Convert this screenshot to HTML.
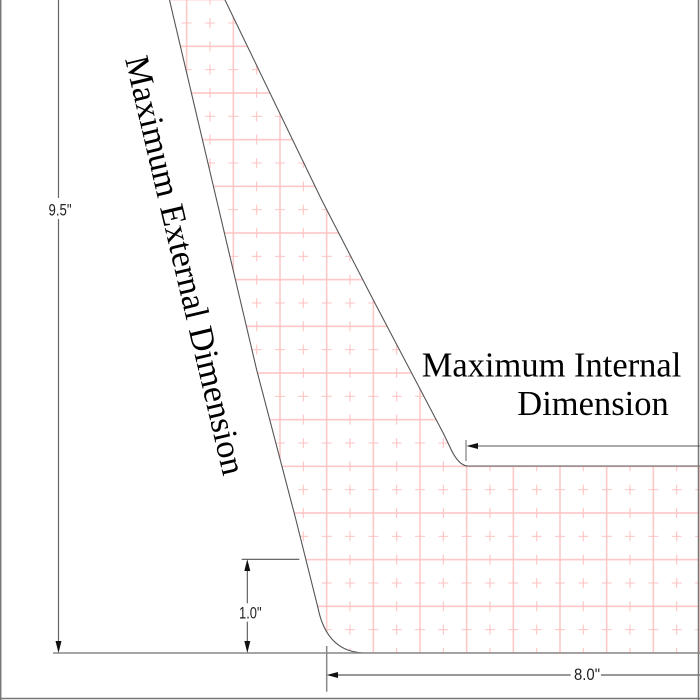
<!DOCTYPE html>
<html><head><meta charset="utf-8"><style>
html,body{margin:0;padding:0;background:#fff;}
svg{display:block;}
</style></head><body>
<svg width="700" height="700" viewBox="0 0 700 700" xmlns="http://www.w3.org/2000/svg">
<defs>
<pattern id="g" patternUnits="userSpaceOnUse" x="326.667" y="653" width="46.667" height="46.667">
<g stroke="#ffc2c2" stroke-width="1.4" fill="none">
<line x1="0" y1="0" x2="0" y2="46.667"/>
<line x1="46.667" y1="0" x2="46.667" y2="46.667"/>
<line x1="0" y1="0" x2="46.667" y2="0"/>
<line x1="0" y1="46.667" x2="46.667" y2="46.667"/>
</g>
<g stroke="#ffc2c2" stroke-width="1.1" fill="none">
<path d="M18.33 23.33h10M23.33 18.33v10"/>
<path d="M-5 23.33h10M0 18.33v10"/>
<path d="M41.67 23.33h10M46.67 18.33v10"/>
<path d="M18.33 0h10M23.33 -5v10"/>
<path d="M18.33 46.67h10M23.33 41.67v10"/>
</g>
</pattern>
<clipPath id="c"><path d="M169.5,0 L225,0 L321.7,200 L373.3,300 L443.3,433.3 L449,445 Q458,466 468,466 L700,466 L700,653 L364,653 Q327,652 318,608 L296,520 L256.7,370 Z"/></clipPath>
</defs>
<rect x="0" y="0" width="700" height="700" fill="#fff"/>
<rect x="0" y="0" width="700" height="700" fill="url(#g)" clip-path="url(#c)"/>

<!-- outlines -->
<path d="M169.5,0 L256.7,370 L296,520 L318,608 Q327,652 364,653 L700,653" fill="none" stroke="#555" stroke-width="1.1"/>
<path d="M225,0 L321.7,200 L373.3,300 L443.3,433.3 L449,445 Q458,466 468,466 L700,466" fill="none" stroke="#555" stroke-width="1.1"/>

<!-- borders -->
<line x1="0.7" y1="0" x2="0.7" y2="700" stroke="#777" stroke-width="1.5"/>
<line x1="698.5" y1="0" x2="698.5" y2="700" stroke="#777" stroke-width="1.5"/>
<line x1="0" y1="698.5" x2="700" y2="698.5" stroke="#777" stroke-width="1.5"/>

<!-- baseline -->
<line x1="53" y1="653" x2="700" y2="653" stroke="#888" stroke-width="1.4"/>

<!-- 9.5 dimension -->
<line x1="58.5" y1="0" x2="58.5" y2="198" stroke="#666" stroke-width="1.2"/>
<line x1="58.5" y1="219" x2="58.5" y2="645" stroke="#666" stroke-width="1.2"/>
<path d="M55.5,641 L61.5,641 L58.5,653 Z" fill="#111"/>
<text x="60" y="215.7" font-family="Liberation Sans, sans-serif" font-size="17" fill="#222" text-anchor="middle" textLength="23" lengthAdjust="spacingAndGlyphs">9.5"</text>

<!-- 1.0 dimension -->
<line x1="241.7" y1="559.3" x2="299.3" y2="559.3" stroke="#555" stroke-width="1.1"/>
<line x1="247.3" y1="565" x2="247.3" y2="603.3" stroke="#555" stroke-width="1.1"/>
<line x1="247.3" y1="621.7" x2="247.3" y2="647" stroke="#555" stroke-width="1.1"/>
<path d="M244.3,571 L250.3,571 L247.3,559.3 Z" fill="#111"/>
<path d="M244.3,641 L250.3,641 L247.3,653 Z" fill="#111"/>
<text x="250.3" y="618.3" font-family="Liberation Sans, sans-serif" font-size="17" fill="#222" text-anchor="middle" textLength="22.5" lengthAdjust="spacingAndGlyphs">1.0"</text>

<!-- 8.0 dimension -->
<line x1="326.7" y1="646" x2="326.7" y2="691.7" stroke="#888" stroke-width="1.5"/>
<line x1="332" y1="675" x2="570.7" y2="675" stroke="#777" stroke-width="1.4"/>
<line x1="601" y1="675" x2="700" y2="675" stroke="#777" stroke-width="1.4"/>
<path d="M338,672 L338,678 L326.7,675 Z" fill="#111"/>
<text x="587" y="680" font-family="Liberation Sans, sans-serif" font-size="17" fill="#222" text-anchor="middle" textLength="26" lengthAdjust="spacingAndGlyphs">8.0"</text>

<!-- internal dimension -->
<line x1="466" y1="440" x2="466" y2="461" stroke="#999" stroke-width="1.5"/>
<line x1="472" y1="446" x2="700" y2="446" stroke="#555" stroke-width="1.1"/>
<path d="M478,443 L478,449 L466.5,446 Z" fill="#111"/>

<!-- labels -->
<text x="421.7" y="376.7" font-family="Liberation Serif, serif" font-size="34.5" fill="#000">Maximum Internal</text>
<text x="517.3" y="415" font-family="Liberation Serif, serif" font-size="34.5" fill="#000">Dimension</text>
<text transform="translate(125,59) rotate(76.75)" x="0" y="0" font-family="Liberation Serif, serif" font-size="34.5" fill="#000">Maximum External Dimension</text>
</svg>
</body></html>
